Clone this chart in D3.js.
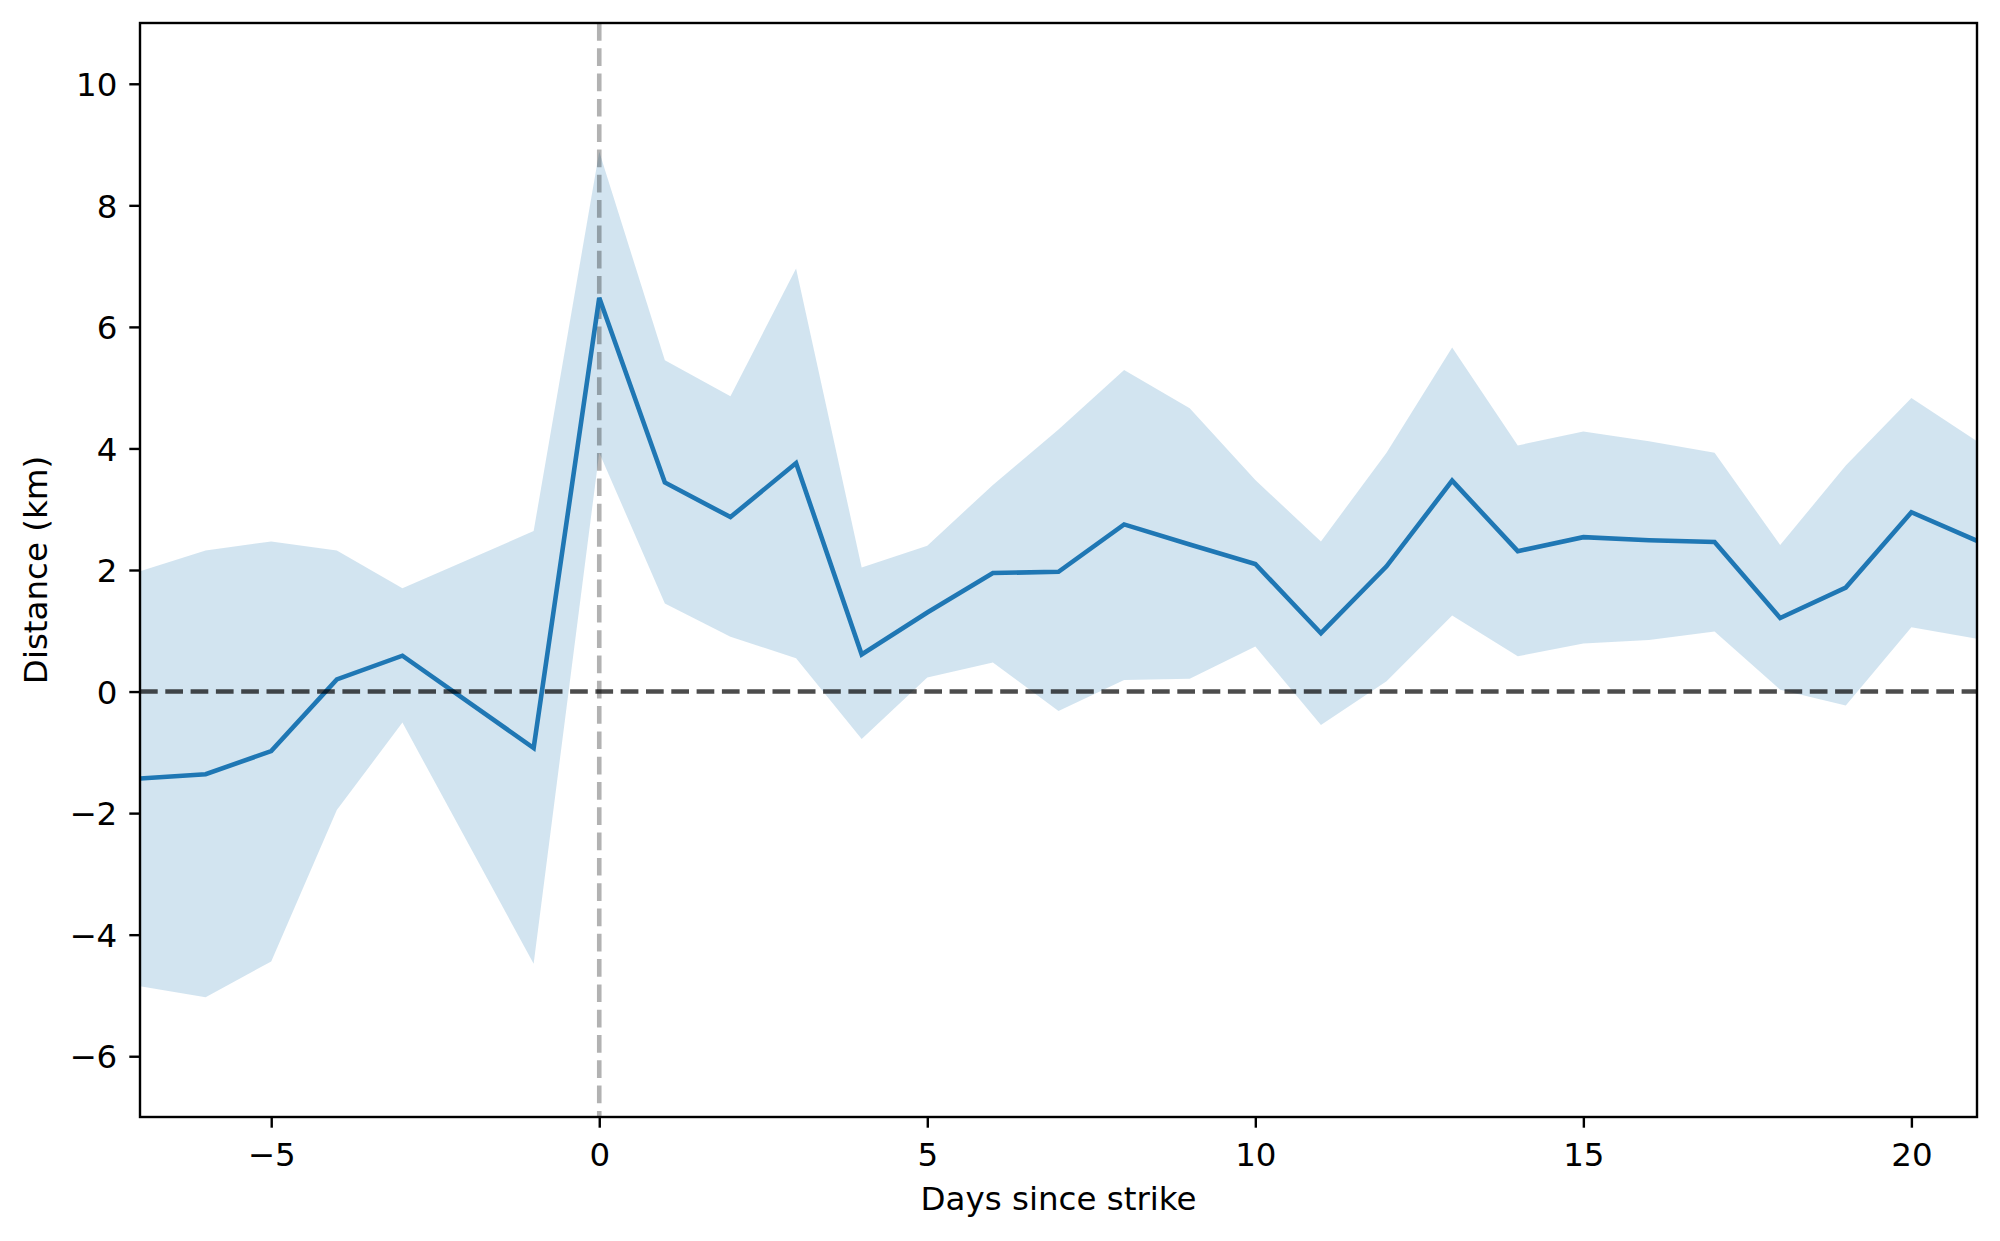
<!DOCTYPE html>
<html>
<head>
<meta charset="utf-8">
<script src="https://cdn.jsdelivr.net/npm/d3@7"></script>
<style>
  html, body { margin: 0; padding: 0; background: #fff; }
  svg { display: block; }
  text { font-family: "DejaVu Sans", sans-serif; fill: #000; }
</style>
</head>
<body>
<script>
// ---- data ----
const days = [-7, -6, -5, -4, -3, -1, 0, 1, 2, 3, 4, 5, 6, 7, 8, 9, 10, 11, 12, 13, 14, 15, 16, 17, 18, 19, 20, 21];
const meanDist = [-1.43, -1.36, -0.98, 0.20, 0.59, -0.93, 6.48, 3.44, 2.87, 3.76, 0.61, 1.30, 1.95, 1.97, 2.75, 2.42, 2.10, 0.96, 2.06, 3.47, 2.31, 2.54, 2.49, 2.46, 1.21, 1.71, 2.95, 2.48];
const upperCI = [1.98, 2.32, 2.47, 2.32, 1.70, 2.64, 8.88, 5.45, 4.86, 6.96, 2.04, 2.40, 3.40, 4.31, 5.29, 4.66, 3.48, 2.47, 3.93, 5.66, 4.05, 4.28, 4.12, 3.93, 2.41, 3.72, 4.83, 4.12];
const lowerCI = [-4.85, -5.03, -4.44, -1.95, -0.51, -4.48, 3.93, 1.45, 0.90, 0.55, -0.78, 0.23, 0.48, -0.32, 0.19, 0.21, 0.74, -0.55, 0.17, 1.25, 0.58, 0.79, 0.85, 0.99, 0.03, -0.23, 1.06, 0.87];
const xTicks = [-5, 0, 5, 10, 15, 20];
const yTicks = [-6, -4, -2, 0, 2, 4, 6, 8, 10];
const xLabel = "Days since strike";
const yLabel = "Distance (km)";

// ---- layout ----
const W = 2000, H = 1241;
const plot = { left: 140, right: 1977, top: 23, bottom: 1117 };
const lw = 4.6;

const svg = d3.select("body").append("svg").attr("width", W).attr("height", H);

const x = d3.scaleLinear().domain([-7, 21]).range([plot.left, plot.right]);
const y = d3.scaleLinear().domain([-7, 11]).range([plot.bottom, plot.top]);

const rows = days.map((d, i) => ({ d, m: meanDist[i], lo: lowerCI[i], hi: upperCI[i] }));

svg.append("defs").append("clipPath").attr("id", "clip")
  .append("rect").attr("x", plot.left).attr("y", plot.top)
  .attr("width", plot.right - plot.left).attr("height", plot.bottom - plot.top);

const g = svg.append("g").attr("clip-path", "url(#clip)");

// band
g.append("path")
  .datum(rows)
  .attr("d", d3.area().x(r => x(r.d)).y0(r => y(r.lo)).y1(r => y(r.hi)))
  .attr("fill", "#1f77b4").attr("fill-opacity", 0.2).attr("stroke", "none");

// vertical reference line
g.append("line")
  .attr("x1", x(0)).attr("x2", x(0)).attr("y1", plot.top).attr("y2", plot.bottom)
  .attr("stroke", "#000").attr("stroke-opacity", 0.3)
  .attr("stroke-width", lw).attr("stroke-dasharray", "17.7,7.6");

// mean line
g.append("path")
  .datum(rows)
  .attr("d", d3.line().x(r => x(r.d)).y(r => y(r.m)))
  .attr("fill", "none").attr("stroke", "#1f77b4").attr("stroke-width", lw)
  .attr("stroke-linejoin", "miter").attr("stroke-linecap", "butt");

// horizontal zero line
g.append("line")
  .attr("x1", plot.left).attr("x2", plot.right).attr("y1", y(0)).attr("y2", y(0))
  .attr("stroke", "#000").attr("stroke-opacity", 0.7)
  .attr("stroke-width", lw).attr("stroke-dasharray", "17.7,7.6");

// axes
const fs = 32.5;
const xAxis = d3.axisBottom(x).tickValues(xTicks).tickSize(10.7).tickPadding(10)
  .tickFormat(d => d < 0 ? "\u2212" + Math.abs(d) : String(d));
const yAxis = d3.axisLeft(y).tickValues(yTicks).tickSize(10.7).tickPadding(12)
  .tickFormat(d => d < 0 ? "\u2212" + Math.abs(d) : String(d));

const gx = svg.append("g").attr("transform", `translate(0,${plot.bottom})`).call(xAxis);
const gy = svg.append("g").attr("transform", `translate(${plot.left},0)`).call(yAxis);
[gx, gy].forEach(a => {
  a.select(".domain").remove();
  a.selectAll(".tick line").attr("stroke", "#000").attr("stroke-width", 2.4);
  a.selectAll(".tick text").attr("font-size", fs).attr("font-family", "DejaVu Sans").attr("fill", "#000");
});
gx.selectAll(".tick text").attr("dy", null).attr("y", 0).attr("transform", "translate(0,49)");
gy.selectAll(".tick text").attr("dy", "0.36em");

// frame
svg.append("rect")
  .attr("x", plot.left).attr("y", plot.top)
  .attr("width", plot.right - plot.left).attr("height", plot.bottom - plot.top)
  .attr("fill", "none").attr("stroke", "#000").attr("stroke-width", 2.4);

// axis labels
svg.append("text")
  .attr("x", (plot.left + plot.right) / 2).attr("y", 1210)
  .attr("text-anchor", "middle").attr("font-size", fs).text(xLabel);
svg.append("text")
  .attr("transform", `translate(46.5,${(plot.top + plot.bottom) / 2}) rotate(-90)`)
  .attr("text-anchor", "middle").attr("font-size", fs).text(yLabel);
</script>
</body>
</html>
